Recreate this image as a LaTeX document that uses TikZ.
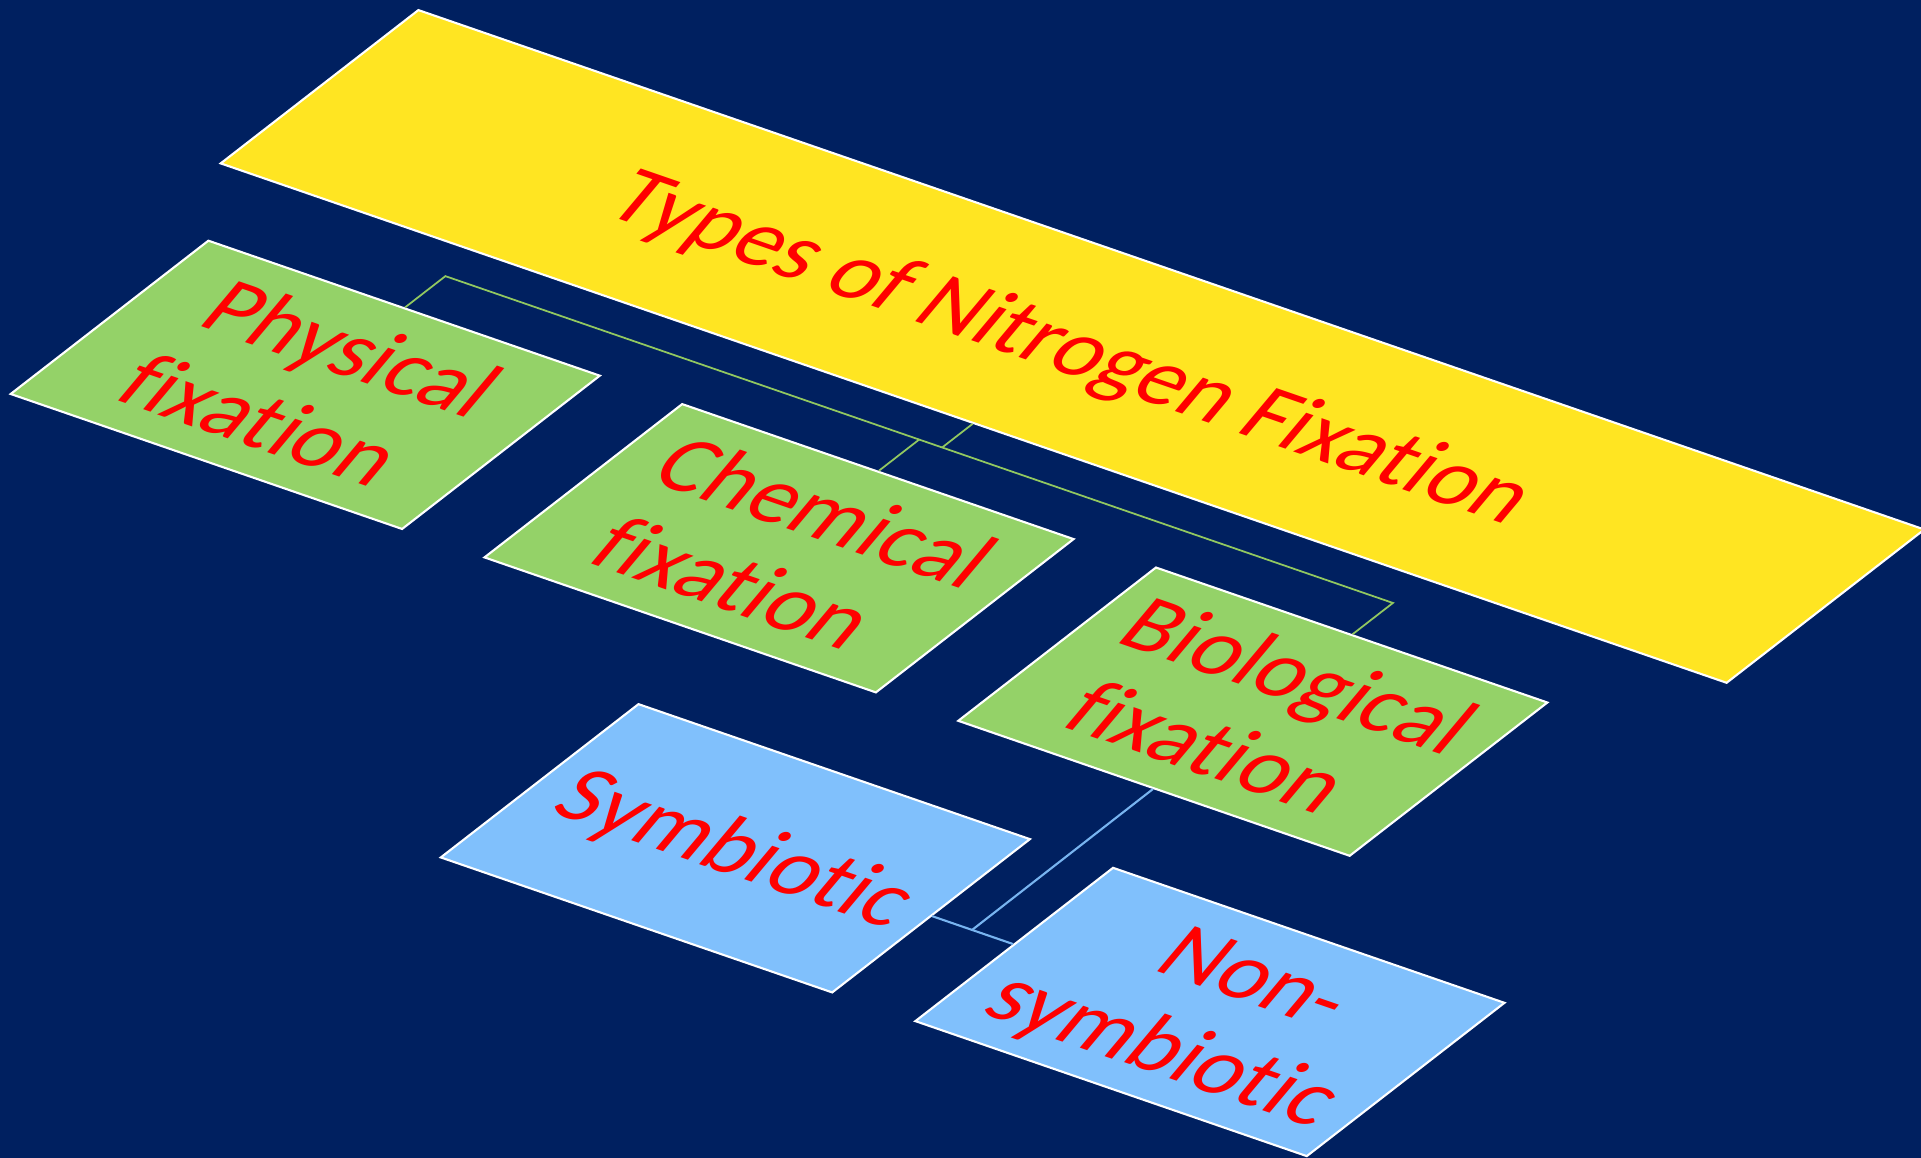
\documentclass[tikz,border=0pt]{standalone}
\usepackage{fontspec}
\setmainfont{Carlito}[Ligatures={NoCommon,NoContextual}]
\definecolor{bgc}{RGB}{0,32,96}
\definecolor{yel}{RGB}{255,229,34}
\definecolor{grn}{RGB}{148,210,104}
\definecolor{blu}{RGB}{128,192,252}
\definecolor{gcon}{RGB}{146,200,96}
\definecolor{bcon}{RGB}{120,180,240}
\tikzset{
  basebox/.style={draw=white, line width=0.6pt, inner sep=0pt,
    minimum height=2.2cm, transform shape},
  titlebox/.style={basebox, fill=yel, minimum width=15.39cm},
  greenbox/.style={basebox, fill=grn, minimum width=4cm},
  bluebox/.style={basebox, fill=blu, minimum width=4cm},
  lbl/.style={text=red, inner sep=0pt, anchor=base,
    font=\fontsize{25}{27.5}\selectfont, transform shape},
  textplane/.style={cm={0.974,-0.336,0.6685,0.7966,(0,0)}},
  gline/.style={draw=gcon, line width=0.5pt},
  bline/.style={draw=bcon, line width=0.6pt}
}
\newcommand\planetext[3]{%
  \begin{scope}[shift={(#1)}, textplane]
    \node[lbl] (#2) at (0,0) {#3};
  \end{scope}}
\begin{document}
\begin{tikzpicture}
\useasboundingbox (0,0) rectangle (19.21,11.58);
\fill[bgc] (0,0) rectangle (19.21,11.58);
\clip (0,0) rectangle (19.21,11.58);
\begin{scope}[cm={0.9785,-0.3375,0.8986,0.6968,(0.107,7.64)}]
  \coordinate (busL) at (2,2.66);
  \coordinate (busR) at (11.684,2.66);
  \coordinate (busT) at (7.077,2.66);
  \coordinate (busC) at (6.842,2.66);
  \coordinate (jn) at (11.69,-2.03);
  % baselines of the texts
  \coordinate (titleB) at (7.16,3.82);
  \coordinate (physB1) at (2.08,1.32);
  \coordinate (physB2) at (2.08,0.30);
  \coordinate (chemB1) at (6.92,1.32);
  \coordinate (chemB2) at (6.92,0.30);
  \coordinate (bioB1) at (11.76,1.32);
  \coordinate (bioB2) at (11.76,0.30);
  \coordinate (symB) at (9.35,-2.31);
  \coordinate (nsymB1) at (14.2,-1.81);
  \coordinate (nsymB2) at (14.2,-2.83);
  \node[titlebox] (title) at (7.077,4.11) {};
  \node[greenbox] (phys) at (2,1.1) {};
  \node[greenbox] (chem) at (6.842,1.1) {};
  \node[greenbox] (bio) at (11.684,1.1) {};
  \node[bluebox] (sym) at (9.27,-2.03) {};
  \node[bluebox] (nsym) at (14.12,-2.03) {};
  \draw[gline] (phys.north) -- (busL) -- (busR) -- (bio.north);
  \draw[gline] (title.south) -- (busT);
  \draw[gline] (chem.north) -- (busC);
  \draw[bline] (bio.south) -- (jn);
  \draw[bline] (sym.east) -- (nsym.west);
\end{scope}
\planetext{titleB}{titleT}{Types of Nitrogen Fixation}
\planetext{physB1}{physT1}{Physical}
\planetext{physB2}{physT2}{fixation}
\planetext{chemB1}{chemT1}{Chemical}
\planetext{chemB2}{chemT2}{fixation}
\planetext{bioB1}{bioT1}{Biological}
\planetext{bioB2}{bioT2}{fixation}
\planetext{symB}{symT}{Symbiotic}
\planetext{nsymB1}{nsymT1}{Non-}
\planetext{nsymB2}{nsymT2}{symbiotic}
\end{tikzpicture}
\end{document}
